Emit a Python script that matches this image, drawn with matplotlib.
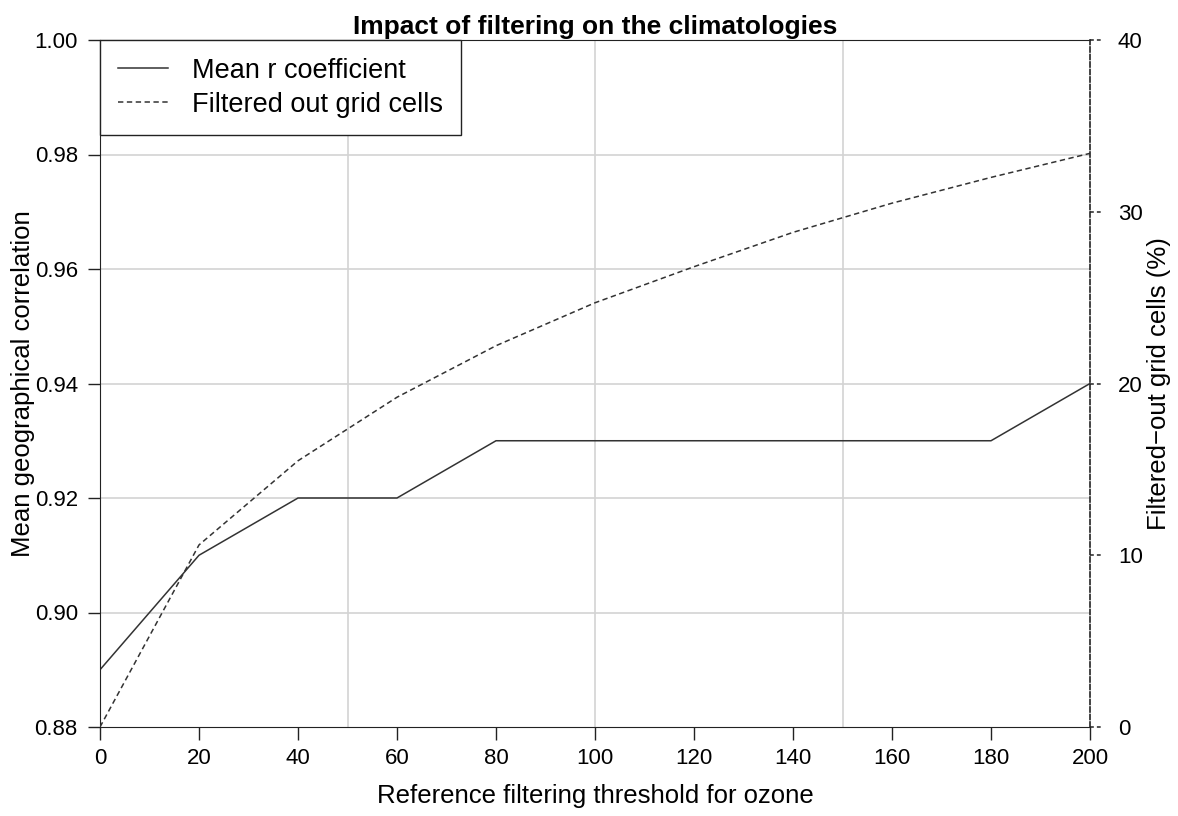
import matplotlib
matplotlib.use("Agg")
import matplotlib.pyplot as plt
import matplotlib.transforms as mtransforms

# -------------------------------------------------
# Data
# -------------------------------------------------
threshold = [0, 20, 40, 60, 80, 100, 120, 140, 160, 180, 200]
mean_r = [0.89, 0.91, 0.92, 0.92, 0.93, 0.93, 0.93, 0.93, 0.93, 0.93, 0.94]
filtered_pct = [0.0, 10.6, 15.5, 19.2, 22.2, 24.7, 26.8, 28.8, 30.5, 32.0, 33.4]

x_ticks = list(range(0, 201, 20))
y_ticks = [0.88, 0.90, 0.92, 0.94, 0.96, 0.98, 1.00]
y2_ticks = [0, 10, 20, 30, 40]
x_grid = [50, 100, 150]
y_grid = [0.90, 0.92, 0.94, 0.96, 0.98]

plt.rcParams["font.family"] = ["Liberation Sans", "DejaVu Sans"]

LINE = "#333333"
AXC = "#222222"
GRID = "#d3d3d3"

fig = plt.figure(figsize=(11.78, 8.16), dpi=100)
ax = fig.add_axes([100 / 1178, 1 - 727 / 816, 990 / 1178, 687 / 816])
ax2 = ax.twinx()

# grid first so lines sit on top
for gx in x_grid:
    ax.axvline(gx, color=GRID, lw=1.2, zorder=0)
for gy in y_grid:
    ax.axhline(gy, color=GRID, lw=1.2, zorder=0)

l1, = ax.plot(threshold, mean_r, color=LINE, lw=1.1, label="Mean r coefficient")
l2, = ax2.plot(threshold, filtered_pct, color=LINE, lw=1.1,
               linestyle=(0, (3.5, 2.3)), label="Filtered out grid cells")

ax.set_xlim(0, 200)
ax.set_ylim(0.88, 1.00)
ax2.set_ylim(0, 40)

ax.set_xticks(x_ticks)
ax.set_yticks(y_ticks)
ax.set_yticklabels([f"{v:.2f}" for v in y_ticks])
ax2.set_yticks(y2_ticks)

ax.tick_params(axis="both", direction="out", length=9, width=1, colors=AXC,
               labelsize=16, labelcolor="black")
ax.tick_params(axis="y", pad=7)
ax.tick_params(axis="x", pad=6)
ax2.tick_params(axis="y", length=0, pad=20, labelsize=16, labelcolor="black")

# dashed tick marks on the right axis
trans = mtransforms.blended_transform_factory(ax2.transAxes, ax2.transData)
for t in y2_ticks:
    ax2.plot([1.0, 1.012], [t, t], transform=trans, color=AXC, lw=1.1,
             linestyle=(0, (2.5, 2)), clip_on=False)

for side in ["left", "bottom", "top"]:
    ax.spines[side].set_color(AXC)
    ax2.spines[side].set_visible(False)
ax.spines["right"].set_visible(False)
ax2.spines["right"].set_color(AXC)
ax2.spines["right"].set_linewidth(1.2)
ax2.spines["right"].set_linestyle((0, (3, 1.5)))

ax.set_xlabel("Reference filtering threshold for ozone", fontsize=18.5, labelpad=11)
ax.set_ylabel("Mean geographical correlation", fontsize=18.5)
ax.yaxis.set_label_coords(-0.066, 0.5)
ax2.set_ylabel("Filtered\u2212out grid cells (%)", fontsize=18.5)
ax2.yaxis.set_label_coords(1.058, 0.5)
ax.set_title("Impact of filtering on the climatologies", fontsize=19,
             fontweight="bold", pad=4)

leg = ax.legend(handles=[l1, l2], loc="upper left", fontsize=19.5,
                borderaxespad=0, fancybox=False, edgecolor=AXC, framealpha=1,
                handlelength=1.85, handletextpad=0.9, borderpad=0.65,
                labelspacing=0.3)
leg.get_frame().set_linewidth(1)
leg.set_zorder(5)

fig.savefig("out.png", dpi=100)
